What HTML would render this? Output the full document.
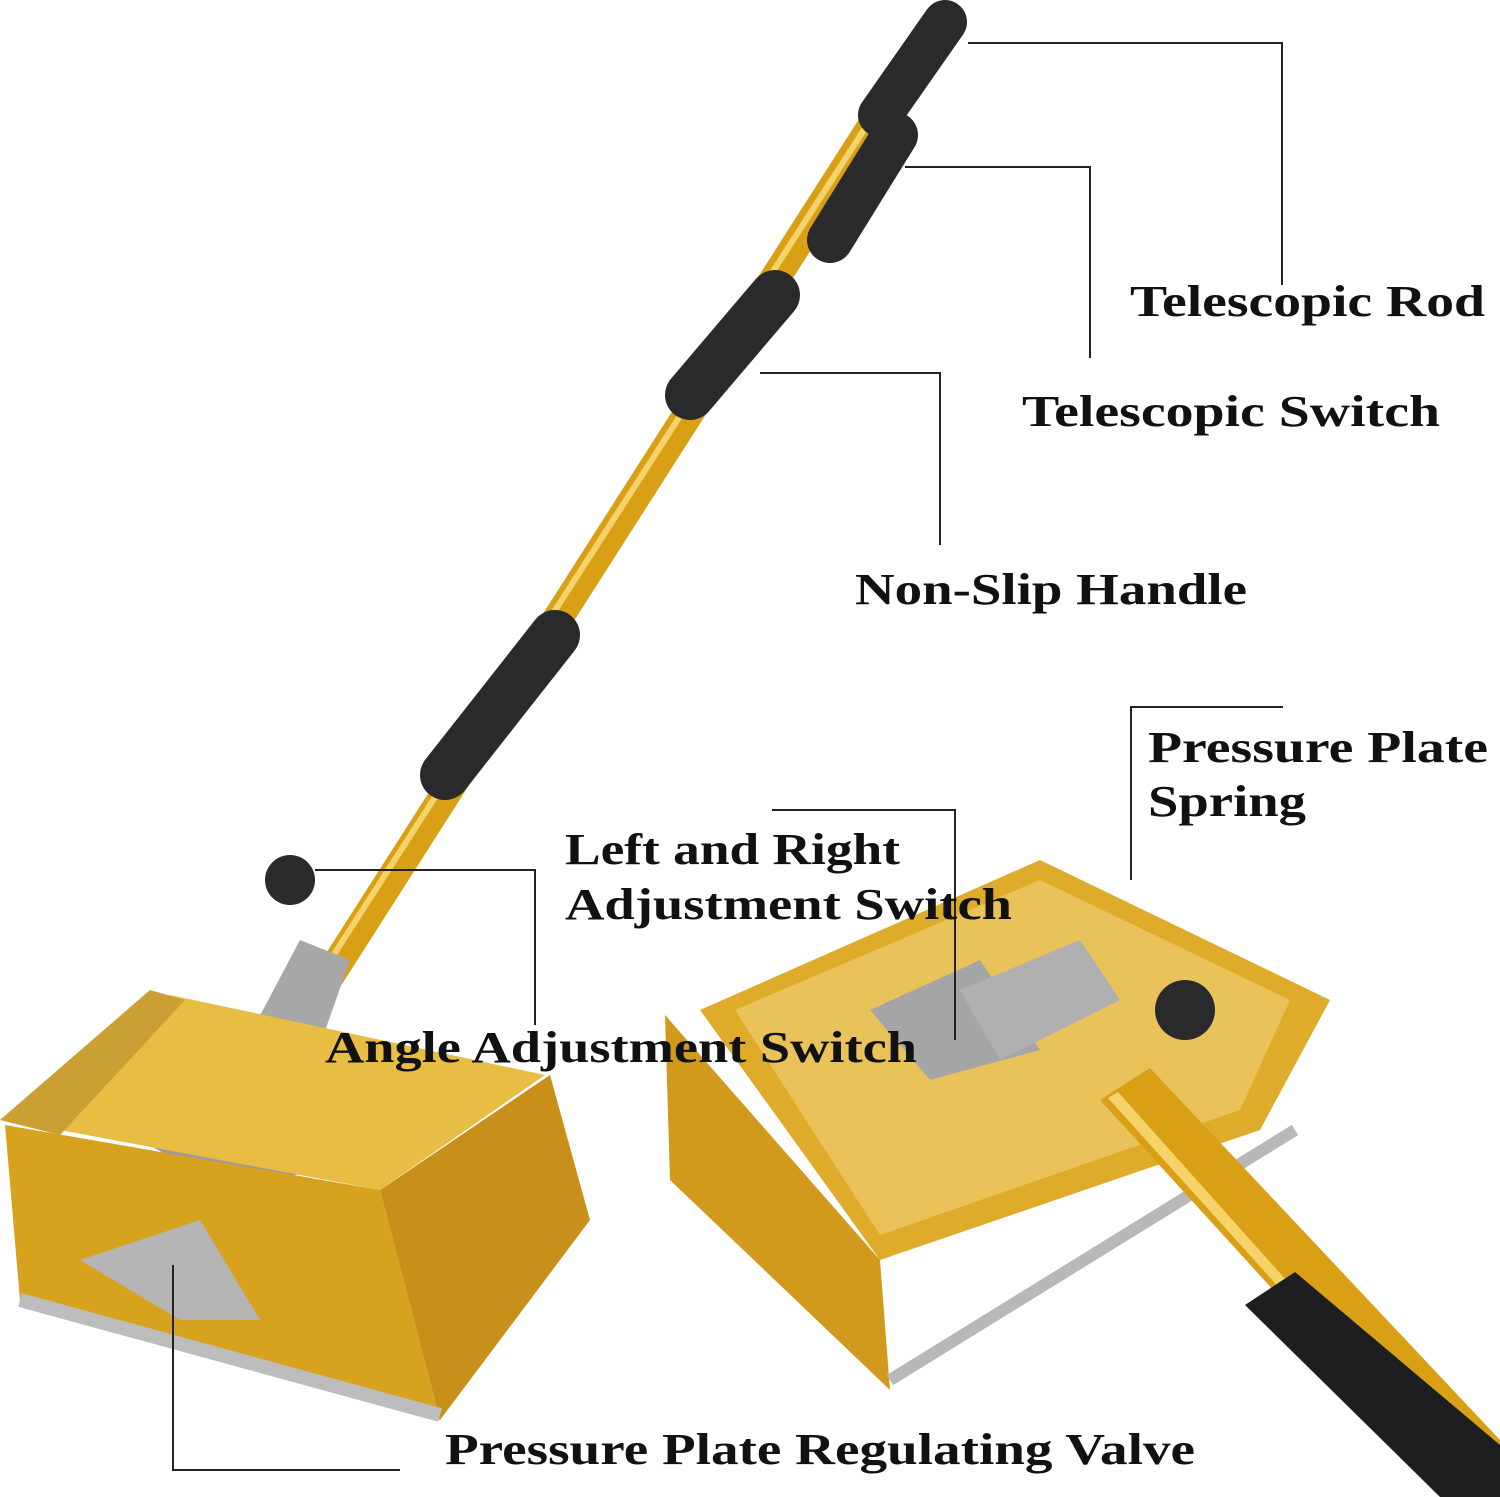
<!DOCTYPE html>
<html><head><meta charset="utf-8"><style>
html,body{margin:0;padding:0;background:#fff}
svg{display:block}
text{font-family:"Liberation Serif",serif;font-weight:bold;fill:#111}
</style></head><body>
<svg width="1500" height="1497" viewBox="0 0 1500 1497" xmlns="http://www.w3.org/2000/svg">
<rect width="1500" height="1497" fill="#fff"/>
<!-- main pole -->
<line x1="940" y1="20" x2="330" y2="975" stroke="#d9a016" stroke-width="30" stroke-linecap="round"/>
<line x1="932" y1="24" x2="322" y2="973" stroke="#f5d36a" stroke-width="6"/>
<!-- grips -->
<line x1="945" y1="22" x2="880" y2="115" stroke="#2a2a2c" stroke-width="44" stroke-linecap="round"/>
<line x1="895" y1="135" x2="830" y2="240" stroke="#2a2a2c" stroke-width="46" stroke-linecap="round"/>
<line x1="775" y1="295" x2="690" y2="395" stroke="#2a2a2c" stroke-width="50" stroke-linecap="round"/>
<line x1="555" y1="635" x2="445" y2="775" stroke="#2a2a2c" stroke-width="50" stroke-linecap="round"/>
<!-- left head bracket -->
<polygon points="300,940 350,960 290,1130 210,1110" fill="#a7a7a7"/>
<polygon points="140,1140 270,1110 360,1160 230,1190" fill="#9a9a9a"/>
<circle cx="290" cy="880" r="25" fill="#2a2a2c"/>
<!-- left box -->
<polygon points="60,1130 170,995 545,1075 380,1190" fill="#e7bd44"/>
<polygon points="5,1125 380,1190 440,1420 20,1300" fill="#d7a21e"/>
<polygon points="380,1190 550,1075 590,1220 440,1420" fill="#c8901a"/>
<polygon points="0,1120 150,990 185,1000 60,1135" fill="#caa035"/>
<line x1="20" y1="1300" x2="440" y2="1415" stroke="#bdbdbd" stroke-width="14"/>
<polygon points="80,1260 200,1220 260,1320 180,1320" fill="#b5b5b5"/>
<!-- right box -->
<polygon points="700,1010 1040,860 1330,1000 1260,1130 880,1260" fill="#deac2a"/>
<polygon points="735,1010 1040,880 1290,1000 1240,1110 880,1235" fill="#e9c35a"/>
<polygon points="665,1015 880,1260 890,1390 670,1180" fill="#d29a1c"/>
<line x1="890" y1="1380" x2="1295" y2="1130" stroke="#b8b8b8" stroke-width="12"/>
<polygon points="870,1010 980,960 1040,1050 930,1080" fill="#a5a5a5"/>
<polygon points="960,990 1080,940 1120,1000 1000,1060" fill="#b0b0b0"/>
<circle cx="1185" cy="1010" r="30" fill="#2a2a2c"/>
<!-- right pole -->
<polygon points="1100,1100 1150,1068 1500,1440 1500,1497 1462,1497" fill="#d9a016"/>
<polygon points="1108,1098 1118,1092 1480,1497 1468,1497" fill="#f5d36a"/>
<polygon points="1245,1305 1295,1272 1500,1445 1500,1497 1440,1497" fill="#1e1e20"/>
<!-- leader lines -->
<g stroke="#222" stroke-width="2" fill="none">
<polyline points="968,43 1282,43 1282,285"/>
<polyline points="905,167 1090,167 1090,358"/>
<polyline points="760,373 940,373 940,545"/>
<polyline points="1131,880 1131,707 1283,707"/>
<polyline points="772,810 955,810 955,1040"/>
<polyline points="315,870 535,870 535,1025"/>
<polyline points="173,1265 173,1470 400,1470"/>
</g>
<!-- labels -->
<text x="1130" y="316" font-size="44" textLength="355" lengthAdjust="spacingAndGlyphs">Telescopic Rod</text>
<text x="1022" y="426" font-size="44" textLength="418" lengthAdjust="spacingAndGlyphs">Telescopic Switch</text>
<text x="855" y="604" font-size="44" textLength="392" lengthAdjust="spacingAndGlyphs">Non-Slip Handle</text>
<text x="1148" y="762" font-size="44" textLength="340" lengthAdjust="spacingAndGlyphs">Pressure Plate</text>
<text x="1148" y="816" font-size="44" textLength="158" lengthAdjust="spacingAndGlyphs">Spring</text>
<text x="565" y="864" font-size="44" textLength="335" lengthAdjust="spacingAndGlyphs">Left and Right</text>
<text x="565" y="919" font-size="44" textLength="447" lengthAdjust="spacingAndGlyphs">Adjustment Switch</text>
<text x="325" y="1062" font-size="44" textLength="592" lengthAdjust="spacingAndGlyphs">Angle Adjustment Switch</text>
<text x="445" y="1464" font-size="44" textLength="750" lengthAdjust="spacingAndGlyphs">Pressure Plate Regulating Valve</text>
</svg>
</body></html>
